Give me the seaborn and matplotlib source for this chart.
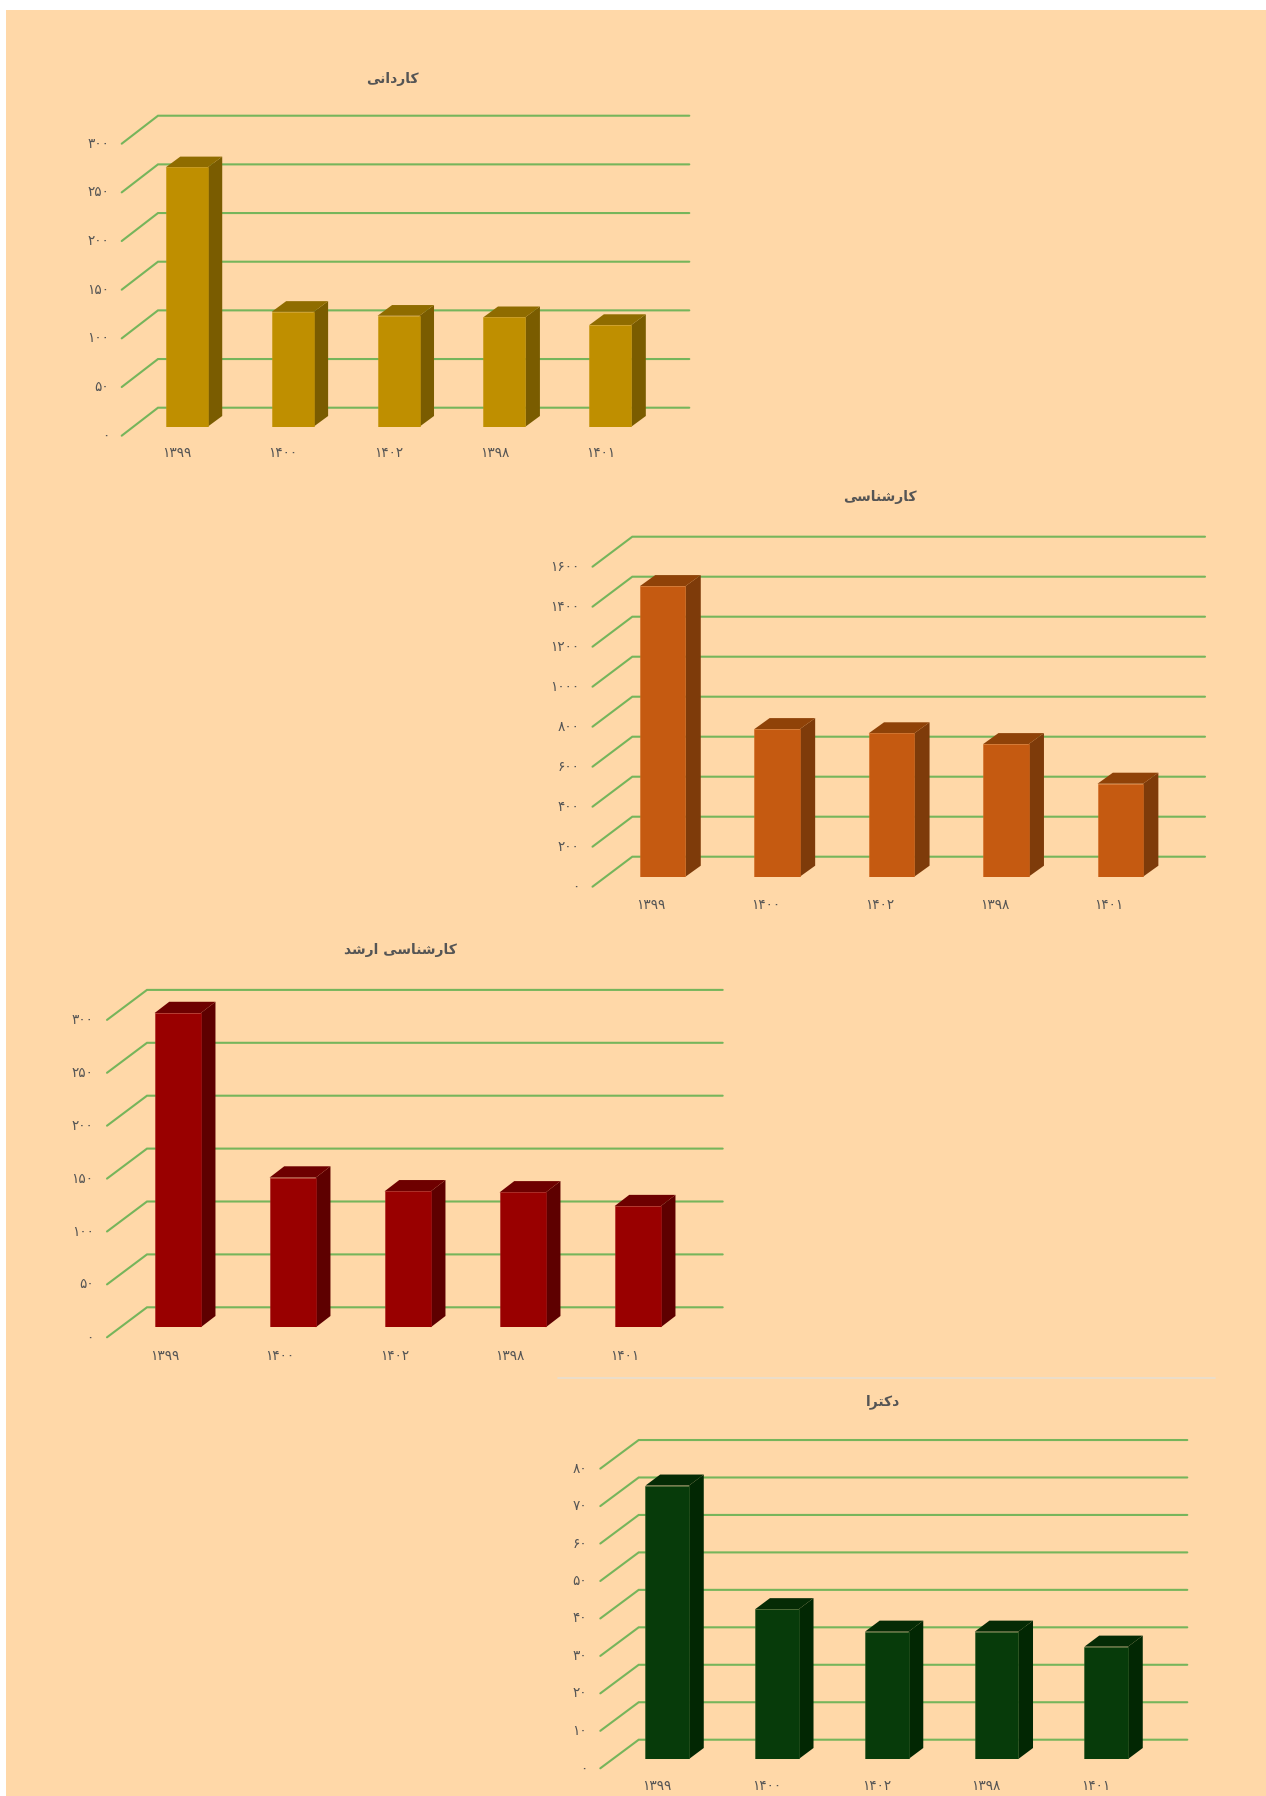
import matplotlib
matplotlib.use('Agg')
import matplotlib.pyplot as plt
import seaborn as sns
import pandas as pd
from matplotlib.patches import Polygon, Rectangle
from matplotlib.lines import Line2D
from matplotlib.transforms import Affine2D

# Data
years = ['۱۳۹۹', '۱۴۰۰', '۱۴۰۲', '۱۳۹۸', '۱۴۰۱']

title_kardani = 'کاردانی'
title_karshenasi = 'کارشناسی'
title_arshad = 'کارشناسی ارشد'
title_doctora = 'دکترا'

values_kardani = [266.5, 118, 114, 112.5, 104.5]
values_karshenasi = [1453, 738, 717, 663, 465]
values_arshad = [297, 141.5, 128.5, 127.5, 114.5]
values_doctora = [73, 40, 34, 34, 30]

ticks_kardani = [0, 50, 100, 150, 200, 250, 300]
ticks_karshenasi = [0, 200, 400, 600, 800, 1000, 1200, 1400, 1600]
ticks_arshad = [0, 50, 100, 150, 200, 250, 300]
ticks_doctora = [0, 10, 20, 30, 40, 50, 60, 70, 80]

W, H = 1266, 1796
BG = '#FFD8A8'
GRID = '#76B55B'
TEXT = '#555555'

sns.set_theme(style='white')
plt.rcParams['font.family'] = ['DejaVu Sans']

# Arabic letters have to be joined by hand, matplotlib does not shape text
# letter: (isolated, final, initial, medial)
FORMS = {
    'ک': '\uFB8E\uFB8F\uFB90\uFB91',
    'ن': '\uFEE5\uFEE6\uFEE7\uFEE8',
    'ی': '\uFBFC\uFBFD\uFBFE\uFBFF',
    'ش': '\uFEB5\uFEB6\uFEB7\uFEB8',
    'س': '\uFEB1\uFEB2\uFEB3\uFEB4',
    'ت': '\uFE95\uFE96\uFE97\uFE98',
    'ا': '\uFE8D\uFE8E',
    'ر': '\uFEAD\uFEAE',
    'د': '\uFEA9\uFEAA',
}


def shape(text):
    out = []
    for i, ch in enumerate(text):
        if ch not in FORMS:
            out.append(ch)
            continue
        prev_joins = i > 0 and len(FORMS.get(text[i - 1], '')) == 4
        next_joins = (i + 1 < len(text) and text[i + 1] in FORMS
                      and len(FORMS[ch]) == 4)
        idx = {(False, False): 0, (True, False): 1,
               (False, True): 2, (True, True): 3}[(prev_joins, next_joins)]
        out.append(FORMS[ch][idx])
    return ''.join(reversed(out))


def fa_number(n):
    return str(n).translate(str.maketrans('0123456789', '۰۱۲۳۴۵۶۷۸۹'))


def draw_chart(fig, title, values, ticks, face, edge, top, side, layout):
    """One fake-3D column chart; layout numbers are in reference pixels."""
    spacing = layout['spacing']
    scale = layout['scale']
    height = ticks[-1] * scale
    ax = fig.add_axes([layout['left'] / W, 1 - layout['base'] / H,
                       5 * spacing / W, height / H])
    ax.patch.set_alpha(0)

    df = pd.DataFrame({'year': years, 'value': values})
    sns.barplot(data=df, x='year', y='value', color=face, saturation=1,
                width=layout['width'], edgecolor=edge, linewidth=0.4, ax=ax)
    ax.set_xlim(-0.5, 4.5)
    ax.set_ylim(0, ticks[-1])
    ax.set_xlabel('')
    ax.set_ylabel('')
    sns.despine(ax=ax, left=True, bottom=True, top=True, right=True)

    # depth in data units
    dx = layout['depth'][0] / spacing
    dy = layout['depth'][1] / scale
    bx = layout['back'][0] / spacing
    by = layout['back'][1] / scale
    fx = layout['front'][0] / spacing
    fy = layout['front'][1] / scale
    x_end = -0.5 + (layout['right'] - layout['left']) / spacing

    # gridlines: slanted part on the side wall, then along the back wall
    for t in ticks:
        ax.plot([-0.5 - fx, -0.5 + bx, x_end], [t - fy, t + by, t + by],
                color=GRID, lw=1.5, zorder=1, clip_on=False,
                solid_joinstyle='miter')

    # side and top faces of every column
    for bar in ax.patches:
        bar.set_zorder(3)
        l = bar.get_x()
        r = l + bar.get_width()
        h = bar.get_height()
        ax.add_patch(Polygon([(r, 0), (r + dx, dy), (r + dx, h + dy), (r, h)],
                             facecolor=side, edgecolor='none', zorder=2,
                             clip_on=False))
        ax.add_patch(Polygon([(l, h), (l + dx, h + dy), (r + dx, h + dy), (r, h)],
                             facecolor=top, edgecolor='none', zorder=2,
                             clip_on=False))

    ax.set_yticks(ticks)
    ax.set_yticklabels([fa_number(t) for t in ticks])
    ax.tick_params(axis='y', length=0, labelsize=9.8, labelcolor=TEXT,
                   pad=(layout['left'] - layout['tick_right']) * 0.72)
    ax.tick_params(axis='x', length=0, labelsize=9.8, labelcolor=TEXT,
                   pad=layout['xlabel_drop'] * 0.72)
    for lab in ax.get_yticklabels():
        lab.set_va('center')
        lab.set_transform(lab.get_transform()
                          + Affine2D().translate(0, -layout['front'][1]))
    for lab in ax.get_xticklabels():
        lab.set_va('center')
        lab.set_transform(lab.get_transform()
                          + Affine2D().translate(layout['xlabel_shift'], 0))

    fig.text(layout['title'][0] / W, 1 - layout['title'][1] / H, shape(title),
             ha='center', va='center', fontsize=10, fontweight='bold',
             color=TEXT)


fig = plt.figure(figsize=(W / 100, H / 100), dpi=100, facecolor='white')

# the picture is a screenshot: white strip on top and on the left
fig.add_artist(Rectangle((6 / W, 0), 1 - 6 / W, 1 - 10 / H,
                         transform=fig.transFigure, facecolor=BG,
                         edgecolor='none', zorder=-5))
# faint edge of the pasted fourth chart
fig.add_artist(Line2D([558 / W, 1215 / W], [1 - 1377.5 / H] * 2,
                      transform=fig.transFigure, color='#E8DFD0', lw=1.2))

draw_chart(fig, title_kardani, values_kardani, ticks_kardani,
           '#BF8F00', '#C4960F', '#8F6C00', '#7A5C00',
           dict(left=133.8, base=426.7, spacing=105.9, scale=0.9733, width=0.396,
                depth=(14.5, 10.7), back=(24.2, 19), front=(12.1, 9),
                right=689.3, tick_right=109, xlabel_drop=26, xlabel_shift=-10,
                title=(392, 79)))

draw_chart(fig, title_karshenasi, values_karshenasi, ticks_karshenasi,
           '#C55A11', '#D0691F', '#8F4208', '#7E3B0A',
           dict(left=605.5, base=876.7, spacing=114.4, scale=0.2, width=0.398,
                depth=(15.3, 11), back=(26.8, 20), front=(13, 10),
                right=1205, tick_right=579, xlabel_drop=28.3, xlabel_shift=-11.5,
                title=(880, 497)))

draw_chart(fig, title_arshad, values_arshad, ticks_arshad,
           '#990000', '#A81E1E', '#6E0000', '#5E0000',
           dict(left=120.15, base=1327.3, spacing=115, scale=1.058, width=0.402,
                depth=(14.7, 11.3), back=(26.85, 20), front=(13.15, 10),
                right=722.7, tick_right=93.5, xlabel_drop=28.4, xlabel_shift=-13,
                title=(400, 950)))

draw_chart(fig, title_doctora, values_doctora, ticks_doctora,
           '#073B0A', '#2F5A25', '#052B05', '#022703',
           dict(left=612.4, base=1759, spacing=109.75, scale=3.746, width=0.397,
                depth=(14.7, 11), back=(26.3, 19.3), front=(12.1, 9.3),
                right=1187.3, tick_right=587, xlabel_drop=26.7, xlabel_shift=-10.5,
                title=(883, 1402)))

fig.savefig('out.png', dpi=100)
